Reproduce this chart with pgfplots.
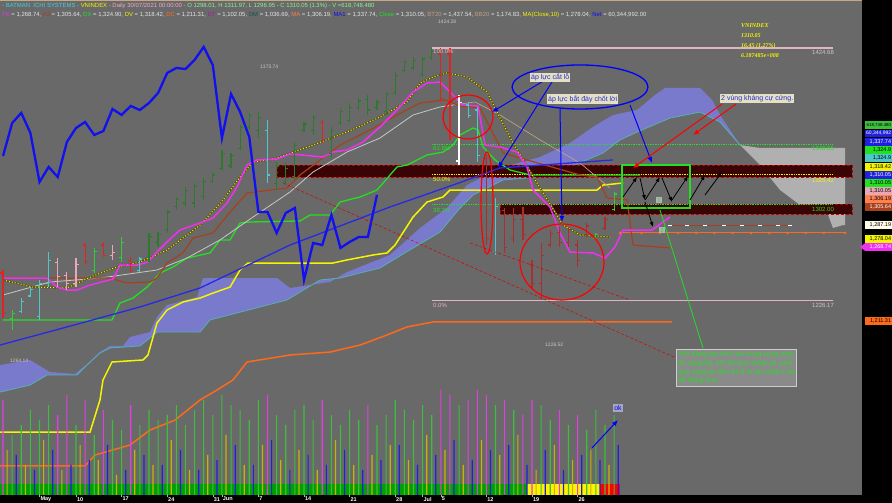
\documentclass[border=0pt]{standalone}
\usepackage{fontspec}
\setmainfont{Liberation Sans}
\newfontfamily\serifbi{Liberation Serif}
\usepackage{pgfplots}
\pgfplotsset{compat=1.18}
\usepackage{pgfplotstable}
\usetikzlibrary{arrows.meta}

\definecolor{bg}{HTML}{696969}
\definecolor{thickblue}{HTML}{1010F0}
\definecolor{mablue}{HTML}{2828E8}
\definecolor{dvyellow}{HTML}{F5F500}
\definecolor{dcorange}{HTML}{FF6A1A}
\definecolor{dxgreen}{HTML}{22E022}
\definecolor{tkmag}{HTML}{F030F0}
\definecolor{kjbrown}{HTML}{A8401C}
\definecolor{magray}{HTML}{C8C8C8}
\definecolor{matan}{HTML}{C8A882}
\definecolor{olivedk}{HTML}{5A5424}
\definecolor{cloud}{HTML}{7A7ACC}
\definecolor{cloudedge}{HTML}{55B0B5}
\definecolor{graycloud}{HTML}{B0B0B0}
\definecolor{band}{HTML}{3A0404}
\definecolor{fibpink}{HTML}{E0B4C0}
\definecolor{upgreen}{HTML}{2D7A2D}
\definecolor{litegreen}{HTML}{33CC33}
\definecolor{dnred}{HTML}{E02424}
\definecolor{dkred}{HTML}{A83030}
\definecolor{cyanbar}{HTML}{4CC8C8}
\definecolor{pinkbar}{HTML}{E8A8B8}
\definecolor{volgreen}{HTML}{3CC03C}
\definecolor{volmag}{HTML}{E040E0}
\definecolor{volyel}{HTML}{C8B400}
\definecolor{volblue}{HTML}{2020E0}
\definecolor{bandgreen}{HTML}{00A000}
\definecolor{notebg}{HTML}{E4E0C4}
\definecolor{noteblue}{HTML}{2A2AD0}
\definecolor{hcyan}{HTML}{40D0E0}
\definecolor{hpink}{HTML}{F0A8C8}
\definecolor{hgreen}{HTML}{90F090}
\definecolor{hval}{HTML}{E4E4E4}
\definecolor{dtpurple}{HTML}{A020A0}
\definecolor{dmteal}{HTML}{1E4E50}
\definecolor{maorange}{HTML}{FF8050}
\definecolor{bttan}{HTML}{C0A080}
\definecolor{boxgray}{HTML}{8A8A8A}

\newcommand{\fs}[1]{\fontsize{#1}{#1}\selectfont}

\pgfdeclareplotmark{otick}{\pgfpathmoveto{\pgfqpoint{-2.6pt}{0pt}}\pgfpathlineto{\pgfqpoint{0pt}{0pt}}\pgfusepathqstroke}
\pgfdeclareplotmark{ctick}{\pgfpathmoveto{\pgfqpoint{0pt}{0pt}}\pgfpathlineto{\pgfqpoint{2.6pt}{0pt}}\pgfusepathqstroke}

% OHLC bars, one table per colour
\pgfplotstableread{
d o h l c
-8 1248 1250.4 1212.7 1216
1 1270 1271.6 1254.3 1257
3 1270 1272.4 1260.6 1262
6 1258 1260.6 1248.0 1250
27 1366 1368.2 1350.9 1353
40 1420 1424.7 1382.3 1385
41 1420 1424.7 1352.5 1355
}\tred
\pgfplotstableread{
d o h l c
-6 1218 1228.4 1216.7 1226
-5 1230 1237.0 1229.2 1235
-4 1214 1242.6 1211.2 1240
-3 1240 1264.5 1237.0 1258
7 1250 1260.6 1248.8 1259
21 1360 1368.2 1318.7 1325
43 1380 1382.3 1369.7 1372
44 1376 1378.4 1335.2 1340
46 1265 1307.0 1262.0 1300
}\tcyan
\pgfplotstableread{
d o h l c
-2 1256 1259.8 1237.0 1245
-1 1246 1248.8 1234.7 1240
0 1240 1259.8 1237.0 1255
4 1262 1270.0 1258.3 1264
}\tpink
\pgfplotstableread{
d o h l c
42 1336 1387.8 1332.8 1382
}\twhite
\pgfplotstableread{
d o h l c
45 1338 1340.7 1270.0 1275
47 1297 1299.1 1263.8 1268
48 1275 1299.1 1271.6 1290
49 1290 1299.9 1274.0 1278
50 1255 1258.3 1236.3 1240
51 1240 1271.6 1226.5 1262
52 1270 1281.8 1268.5 1279
53 1280 1284.2 1268.5 1272
54 1272 1284.2 1268.5 1282
55 1270 1274.0 1252.8 1258
56 1278 1287.3 1276.3 1285
58 1283 1292.0 1281.8 1290
}\tdkred
\pgfplotstableread{
d o h l c
-7 1212 1219.0 1203.3 1216
2 1250 1267.7 1248.0 1265
5 1260 1276.3 1256.7 1272
57 1275 1279.5 1274.0 1278
59 1298.01 1311.97 1296.95 1310.05
}\tlgreen
\pgfplotstableread{
d o h l c
8 1260 1279.5 1256.7 1277
9 1272 1280.2 1268.5 1278
10 1282 1297.5 1279.5 1296
11 1300 1307.7 1297.5 1306
12 1303 1315.6 1299.9 1313
13 1303 1318.7 1299.1 1316
14 1308 1322.6 1305.4 1320
15 1320 1327.3 1318.7 1325
16 1330 1344.6 1328.9 1342
17 1332 1342.3 1330.5 1340
18 1346 1364.2 1344.6 1362
19 1362 1373.7 1360.3 1372
20 1360 1374.4 1354.0 1370
22 1318 1335.2 1313.2 1332
23 1320 1334.4 1317.1 1330
24 1324 1350.9 1321.1 1348
25 1360 1366.6 1358.7 1365
26 1360 1372.1 1356.4 1370
28 1342 1362.7 1338.3 1360
29 1366 1377.6 1364.2 1375
30 1368 1381.5 1366.6 1378
31 1378 1385.4 1376.0 1383
32 1384 1387.8 1372.1 1376
33 1378 1383.9 1376.0 1382
34 1375 1390.1 1372.1 1388
35 1390 1405.8 1387.8 1403
36 1407 1415.3 1405.8 1413
37 1409 1417.6 1407.4 1415
38 1404 1417.6 1401.9 1416
39 1417 1424.7 1415.3 1422
}\tgreen

% MA(Close,10)
\pgfplotstableread{
d p
-8.0 1242.6
-4.71 1237.0
-0.99 1236.3
1.86 1245.7
4.5 1252.8
7.02 1256.7
9.98 1266.1
13.6 1285.7
16.12 1305.4
17.98 1323.4
19.41 1335.2
20.94 1336.8
22.37 1339.1
25.99 1348.5
29.71 1358.7
33.33 1370.5
36.29 1382.3
37.72 1397.2
39.14 1401.9
40.68 1405.1
42.87 1401.9
45.07 1390.1
46.49 1369.7
47.92 1350.1
50.55 1318.7
53.4 1285.7
55.26 1277.9
58.55 1276.3
}\tmaten

\newcommand{\ohlc}[2]{%
  \addplot[#2, only marks, mark=otick, mark options={line width=1.2pt},
    error bars/.cd, y dir=both, y explicit, error mark=none,
    error bar style={line width=1.2pt, #2}]
    table[x=d, y=o, y error plus expr=\thisrow{h}-\thisrow{o},
          y error minus expr=\thisrow{o}-\thisrow{l}] {#1};
  \addplot[#2, only marks, mark=ctick, mark options={line width=1.2pt}]
    table[x=d, y=c] {#1};
}

\pgfplotsset{chart/.style={scale only axis, width=862pt, xmin=-8.333, xmax=86.18,
  anchor=south west, at={(0pt,8pt)}}}

\begin{document}
\begin{tikzpicture}
\useasboundingbox (0,0) rectangle (892pt,503pt);
\begin{scope}[x=1pt, y=-1pt, yshift=503pt]
  \fill[bg] (0,0) rectangle (862,495);
  \fill[black] (862,0) rectangle (892,503);
  \fill[black] (0,495) rectangle (892,503);
  \draw[matan, line width=1.2pt] (0,0.6) -- (862,0.6);
\end{scope}

\begin{axis}[chart, height=475pt, ymin=1073.8, ymax=1446.66, hide axis]
% cloud
\addplot[fill=cloud, draw=none] coordinates {
 (-8.33,1175.8) (-5.04,1179.8) (-3.95,1175.0) (-2.85,1170.3) (-0.11,1168.8) (1.21,1176.6)
 (2.63,1186.0) (3.73,1190.8) (5.15,1190.8) (5.92,1197.8) (8.11,1201.7) (8.88,1213.5)
 (9.98,1222.9) (13.27,1229.2) (13.93,1244.1) (22.04,1244.1) (23.46,1236.3) (27.85,1241.0)
 (29.71,1248.8) (34.43,1262.2) (37.72,1283.4) (40.68,1299.1) (42.87,1317.1) (46.49,1330.5)
 (50.88,1339.1) (54.17,1350.1) (56.69,1362.7) (58.88,1372.1) (61.51,1376.0) (63.49,1387.8)
 (64.58,1393.3) (68.42,1393.3) (69.74,1383.9) (70.83,1369.7) (72.81,1348.5)
 (70.61,1366.6) (68.42,1374.4) (65.13,1369.7) (61.51,1358.7) (59.65,1352.5) (57.79,1342.3)
 (54.17,1331.3) (50.55,1323.4) (46.82,1321.1) (45.72,1317.1) (43.53,1309.3) (42.1,1299.1)
 (39.91,1280.2) (36.95,1267.7) (33.33,1252.0) (28.95,1244.1) (26.75,1242.6) (23.14,1226.9)
 (14.69,1211.2) (13.6,1201.7) (8.88,1201.7) (7.02,1190.8) (3.73,1189.2) (2.63,1185.3)
 (1.21,1175.8) (0.11,1168.0) (-3.18,1168.0) (-5.04,1160.1) (-8.33,1154.6)} -- cycle;
\addplot[fill=graycloud, draw=none] coordinates {
 (72.81,1348.5) (75.0,1346.2) (84.32,1346.2) (84.32,1285.7) (84.1,1285.7) (83.0,1283.4)
 (82.13,1299.9) (79.39,1301.4) (77.19,1313.2) (75.0,1332.8)} -- cycle;
\addplot[cloudedge, line width=0.8pt] coordinates {
 (-8.33,1154.6) (-5.04,1160.1) (-3.18,1168.0) (0.11,1168.0) (1.21,1175.8) (2.63,1185.3)
 (3.73,1189.2) (7.02,1190.8) (8.88,1201.7) (13.6,1201.7) (14.69,1211.2) (23.14,1226.9)
 (26.75,1242.6) (28.95,1244.1) (33.33,1252.0) (36.95,1267.7) (39.91,1280.2) (42.1,1299.1)
 (43.53,1309.3) (45.72,1317.1) (46.82,1321.1) (50.55,1323.4) (54.17,1331.3) (57.79,1342.3)
 (59.65,1352.5) (61.51,1358.7) (65.13,1369.7) (68.42,1374.4) (70.61,1366.6) (72.81,1348.5)};
% resistance bands
\addplot[fill=band, draw=red!75!black, densely dashed, line width=0.6pt] coordinates {
 (22.04,1332.8) (85.09,1332.8) (85.09,1323.4) (22.04,1323.4)} -- cycle;
\addplot[fill=band, draw=red!75!black, densely dashed, line width=0.6pt] coordinates {
 (46.49,1302.2) (85.09,1302.2) (85.09,1294.4) (46.49,1294.4)} -- cycle;
% fibonacci levels
\addplot[fibpink, line width=1.2pt] coordinates {(39.04,1424.68) (83.0,1424.68)};
\addplot[fibpink, line width=1.2pt] coordinates {(39.04,1226.17) (83.0,1226.17)};
\addplot[dxgreen, densely dotted, line width=0.7pt] coordinates {(39.04,1348.85) (83.0,1348.85)};
\addplot[dvyellow, densely dotted, line width=0.7pt] coordinates {(39.04,1325.42) (83.0,1325.42)};
\addplot[dxgreen, densely dotted, line width=0.7pt] coordinates {(39.04,1302.0) (83.0,1302.0)};
% DC
\addplot[dcorange, line width=1.5pt] coordinates {
 (-8.33,1096.6) (0.99,1096.6) (2.08,1105.2) (5.92,1113.0) (8.11,1124.8) (10.86,1132.6)
 (13.6,1148.4) (15.46,1156.2) (17.21,1164.1) (18.75,1178.2) (23.46,1183.7) (27.85,1186.0)
 (31.14,1191.5) (34.1,1199.4) (36.29,1205.7) (39.14,1209.6) (65.35,1209.6)};
\addplot[dcorange, line width=1pt, mark=*, mark size=0.7pt] coordinates {
 (59.65,1279.5) (62,1279.5) (64,1279.5) (66,1279.5) (68,1279.5) (70,1279.5) (72,1279.5)
 (74,1279.5) (76,1279.5) (78,1279.5) (80,1279.5) (82,1279.5) (84.32,1279.5)};
% DV
\addplot[dvyellow, line width=1.5pt] coordinates {
 (-8.33,1123.2) (1.54,1123.2) (2.63,1148.4) (2.96,1164.1) (3.95,1178.2) (7.35,1179.8)
 (7.89,1183.7) (8.88,1208.8) (9.98,1219.0) (11.73,1225.3) (13.6,1228.4) (15.02,1232.3)
 (16.89,1237.0) (17.98,1250.4) (18.86,1255.9) (28.18,1255.9) (29.71,1258.3) (32.57,1262.2)
 (34.1,1263.8) (34.98,1270.0) (36.95,1292.0) (38.49,1303.8) (40.24,1307.7) (41.0,1313.2)
 (57.13,1313.2) (57.79,1317.1) (59.98,1318.7)};
% DX
\addplot[dxgreen, line width=1.3pt] coordinates {
 (-8.0,1211.2) (3.95,1211.2) (4.82,1224.5) (6.25,1228.4) (7.79,1237.0) (9.21,1248.0)
 (10.64,1252.8) (12.17,1259.8) (14.69,1263.8) (15.79,1274.0) (16.89,1274.0) (17.98,1287.3)
 (19.08,1288.1) (24.56,1288.9) (25.66,1293.6) (27.85,1293.6) (28.95,1303.8) (31.14,1307.7)
 (33.0,1313.2) (35.2,1331.3) (36.29,1332.8) (38.49,1340.7) (40.24,1343.0) (41.34,1348.5)
 (42.1,1356.4) (43.53,1361.9) (44.08,1360.3) (44.63,1347.0) (45.94,1336.8) (47.59,1328.9)
 (49.78,1325.0) (61.84,1325.0)};
% MA (grey) and its continuation
\addplot[magray, line width=0.8pt] coordinates {
 (-8.0,1230.8) (-2.85,1241.0) (2.63,1244.1) (8.88,1250.4) (12.17,1259.8) (15.79,1274.0)
 (19.41,1292.0) (23.46,1311.6) (25.99,1327.3) (29.71,1343.0) (33.33,1354.0) (36.95,1372.1)
 (39.91,1378.4) (41.34,1379.9)};
\addplot[matan, line width=0.6pt] coordinates {
 (41.34,1379.9) (43.75,1382.3) (46.49,1372.1) (50.88,1352.5) (55.26,1334.4) (58.55,1314.8)};
% KJ
\addplot[kjbrown, line width=1.2pt] coordinates {
 (-8.0,1244.1) (3.73,1244.1) (5.59,1240.2) (8.11,1241.0) (8.88,1244.1) (9.98,1255.9)
 (11.73,1263.8) (12.83,1275.5) (15.02,1279.5) (16.89,1295.9) (18.75,1310.8) (23.14,1314.8)
 (24.56,1325.0) (28.95,1348.5) (32.24,1360.3) (35.2,1372.1) (37.72,1381.5) (40.46,1383.9)
 (42.1,1379.2) (44.3,1377.6) (46.82,1342.3) (49.45,1336.8) (55.26,1325.0) (57.13,1323.4)
 (58.22,1306.9) (60.42,1305.4) (61.07,1270.0) (65.13,1267.7)};
\addplot[kjbrown, line width=1pt, mark=-, mark size=2pt, mark options={white}] coordinates {
 (65.13,1285.0) (67,1285.0) (69,1285.0) (71,1285.0) (73,1285.0) (75,1285.0) (77,1285.0) (78.29,1285.0)};
% MA(Close,10)
\addplot[olivedk, line width=1.8pt] table[x=d, y=p] {\tmaten};
\addplot[dvyellow, dotted, line width=1pt] table[x=d, y=p] {\tmaten};
% TK
\addplot[tkmag, line width=1.5pt] coordinates {
 (-8.0,1244.1) (-3.18,1244.1) (-2.08,1237.0) (-0.99,1234.7) (0.11,1234.7) (1.54,1238.6)
 (4.06,1243.3) (4.82,1254.3) (6.69,1254.3) (7.89,1256.7) (8.88,1264.5) (9.98,1272.4)
 (11.4,1281.8) (13.6,1287.3) (15.02,1291.2) (16.56,1303.0) (17.65,1315.6) (18.75,1332.8)
 (19.85,1336.8) (22.04,1337.5) (23.46,1341.5) (27.08,1339.1) (28.18,1343.0) (29.71,1344.6)
 (31.47,1350.9) (33.33,1362.7) (35.2,1376.0) (36.95,1390.1) (38.49,1397.2) (39.91,1398.0)
 (41.34,1387.8) (42.32,1379.9) (44.08,1379.2) (44.85,1348.5) (46.49,1347.0) (48.36,1343.0)
 (49.45,1331.3) (50.11,1313.2) (51.97,1299.9) (53.07,1279.5) (54.17,1264.5) (56.69,1263.8)
 (58.0,1259.8) (59.1,1268.5) (59.98,1281.8) (63.16,1281.8) (65.13,1292.0)};
% MA1 (thin blue)
\addplot[mablue, line width=1.3pt] coordinates {
 (-8.33,1191.5) (-0.99,1205.7) (7.02,1221.4) (13.6,1236.3) (23.46,1270.0) (34.43,1299.9)
 (41.34,1317.1) (46.49,1330.5) (58.88,1336.8)};
% lagging close (thick blue)
\addplot[thickblue, line width=2.3pt] coordinates {
 (-8,1339.9) (-7,1365.8) (-6,1373.7) (-5,1358.0) (-4,1319.5) (-3,1331.3) (-2,1323.4)
 (-1,1350.9) (0,1361.9) (1,1366.6) (2,1356.4) (3,1359.5) (4,1376.8) (5,1372.1) (6,1379.2)
 (7,1376.0) (8,1381.5) (9,1389.4) (10,1405.1) (11,1409.0) (12,1408.2) (13,1415.3)
 (14,1425.5) (15,1411.3) (16,1354.0) (17,1388.6) (18,1374.4) (19,1354.8) (20,1295.9)
 (21,1295.9) (22,1279.5) (23,1295.2) (24,1299.1) (25,1242.6) (26,1271.6) (27,1270.0)
 (28,1293.6) (29,1267.7) (30,1272.4) (31,1276.3) (32,1276.3) (33,1309.3)};
% price bars
\ohlc{\tgreen}{upgreen}
\ohlc{\tlgreen}{litegreen}
\ohlc{\tred}{dnred}
\ohlc{\tdkred}{dkred}
\ohlc{\tcyan}{cyanbar}
\ohlc{\tpink}{pinkbar}
\ohlc{\twhite}{white}
% green box
\addplot[draw=dxgreen, line width=1.2pt] coordinates {
 (59.87,1332.8) (67.32,1332.8) (67.32,1299.1) (59.87,1299.1)} -- cycle;
\end{axis}

\begin{axis}[chart, height=110pt, ymin=0, ymax=1100,
  axis line style={draw=none}, ytick=\empty,
  xtick={-4,0,5,10,15,16,20,25,30,35,38,40,45,50,55},
  xticklabels={May,10,17,24,31,Jun,7,14,21,28,Jul,5,12,19,26},
  xtick pos=left, tick align=outside, major tick length=2.5pt,
  every tick/.style={draw=white!70!black, line width=0.4pt},
  xticklabel style={font=\fs{5.5}\bfseries, text=white, anchor=north west,
    inner sep=0pt, xshift=0.8pt, yshift=0.5pt}]
\addplot[fill=bandgreen, draw=none] coordinates {(-8.333,0) (49.45,0) (49.45,110) (-8.333,110)} -- cycle;
\addplot[fill=yellow, draw=none] coordinates {(49.45,0) (57.46,0) (57.46,110) (49.45,110)} -- cycle;
\addplot[fill=red, draw=none] coordinates {(57.46,0) (59.65,0) (59.65,110) (57.46,110)} -- cycle;
\addplot[ybar, bar width=1.1pt, bar shift=0pt, fill=volgreen, draw=none] coordinates {
 (-7,600) (-6,700) (-5,850) (-4,750) (-3,900) (0,700) (2,600) (4,750) (5,650) (7,700)
 (8,850) (9,750) (10,800) (11,900) (12,700) (13,850) (14,950) (15,800) (16,1000) (17,900)
 (18,850) (19,750) (20,950) (22,800) (23,700) (24,850) (25,900) (26,750) (28,800) (29,700)
 (30,850) (31,750) (33,700) (34,800) (35,950) (36,850) (37,750) (38,900) (39,800) (42,900)
 (46,900) (48,850) (51,900) (52,750) (54,700) (56,650) (57,850) (58,700) (59,800)};
\addplot[ybar, bar width=1.1pt, bar shift=0pt, fill=volmag, draw=none] coordinates {
 (-8,950) (-2,800) (-1,1000) (1,950) (3,850) (6,900) (21,1000) (27,950) (32,900) (40,1050)
 (41,1000) (43,950) (44,1050) (45,1000) (47,950) (49,800) (50,950) (53,850) (55,800)};
\addplot[ybar, bar width=1.2pt, bar shift=0pt, fill=volyel, draw=none] coordinates {
 (-7.55,450) (-5.55,300) (-3.55,550) (-1.55,250) (0.45,500) (2.45,350) (4.45,200) (6.45,450)
 (8.45,300) (10.45,550) (12.45,250) (14.45,400) (16.45,600) (18.45,300) (20.45,500)
 (22.45,350) (24.45,450) (26.45,250) (28.45,550) (30.45,300) (32.45,400) (34.45,500)
 (36.45,350) (38.45,600) (40.45,450) (42.45,300) (44.45,550) (46.45,400) (48.45,600)
 (50.45,250) (52.45,500) (54.45,350) (56.45,450) (58.45,300)};
\addplot[ybar, bar width=1.2pt, bar shift=0pt, fill=volblue, draw=none] coordinates {
 (-6.55,400) (-4.55,250) (-2.55,450) (-0.55,300) (1.45,350) (3.45,500) (5.45,250) (7.45,400)
 (9.45,300) (11.45,450) (13.45,250) (15.45,350) (17.45,500) (19.45,300) (21.45,550)
 (23.45,250) (25.45,400) (27.45,300) (29.45,450) (31.45,250) (33.45,350) (35.45,500)
 (37.45,300) (39.45,400) (41.45,550) (43.45,350) (45.45,450) (47.45,500) (49.45,300)
 (51.45,450) (53.45,250) (55.45,400) (57.45,350) (59.45,500)};
\end{axis}

\begin{scope}[x=1pt, y=-1pt, yshift=503pt]
% header
\node[anchor=west, inner sep=0, font=\fs{5.95}] at (2,5.5) {\textcolor{hcyan}{- BATMAN \ ICHI SYSTEMS -} \textcolor{dvyellow}{VNINDEX} \textcolor{hpink}{- Daily 30/07/2021 00:00:00 -} \textcolor{hgreen}{O 1298.01, H 1311.97, L 1296.95 - C 1310.05 (1.3\%) - V =618,748.480}};
\node[anchor=west, inner sep=0, font=\fs{5.95}, text=hval] at (2,15) {\textcolor{tkmag}{TK} = 1,268.74, \textcolor{kjbrown}{KJ} = 1,305.64, \textcolor{dxgreen}{DX} = 1,324.90, \textcolor{dvyellow}{DV} = 1,318.42, \textcolor{dcorange}{DC} = 1,211.31, \textcolor{dtpurple}{DT} = 1,102.05, \textcolor{dmteal}{DM} = 1,036.69, \textcolor{maorange}{MA} = 1,306.19, \textcolor{thickblue}{MA1} = 1,337.74, \textcolor{dxgreen}{Close} = 1,310.05, \textcolor{bttan}{BT20} = 1,437.54, \textcolor{bttan}{BB20} = 1,174.83, \textcolor{dvyellow}{MA(Close,10)} = 1,278.04, \textcolor{thickblue}{Net} = 60,344,992.00};
% top-right quote
\begin{scope}[every node/.style={anchor=west, inner sep=0, font=\serifbi\itshape\bfseries\fs{6}, text=dvyellow}]
\node at (741,26) {VNINDEX};
\node at (741,36) {1310.05};
\node at (741,46) {16.45 (1.27\%)};
\node at (741,56) {6.187485e+008};
\end{scope}
% fibonacci labels
\begin{scope}[every node/.style={anchor=west, inner sep=0, font=\fs{6}}]
\node[text=fibpink] at (433,51) {100.0\%};
\node[text=dxgreen] at (433,148) {61.8\%};
\node[text=dvyellow] at (433,179) {50.0\%};
\node[text=dxgreen] at (433,210) {38.2\%};
\node[text=fibpink] at (433,305) {0.0\%};
\node[text=magray] at (812,52) {1424.68};
\node[text=dxgreen] at (812,148) {1348.85};
\node[text=dvyellow] at (812,180) {1325.42};
\node[text=dxgreen] at (812,209) {1302.00};
\node[text=magray] at (812,305) {1226.17};
\node[text=magray, font=\fs{5}] at (438,22) {1424.28};
\node[text=magray, font=\fs{5}] at (260,67) {1375.74};
\node[text=magray, font=\fs{5}] at (10,361) {1264.14};
\node[text=magray, font=\fs{5}] at (545,345) {1226.52};
\end{scope}
% ellipses
\draw[red, line width=1.2pt] (468,117) ellipse [x radius=25pt, y radius=22pt];
\draw[red, line width=1.2pt] (487,203) ellipse [x radius=6pt, y radius=51pt];
\draw[red, line width=1.2pt] (562,262) ellipse [x radius=42pt, y radius=38pt];
\draw[blue, line width=1.3pt] (580,87) ellipse [x radius=68pt, y radius=22pt];
% dotted guide lines
\draw[red!85!black, densely dashed, line width=0.5pt] (283,183) -- (676,358);
\draw[red!85!black, densely dashed, line width=0.5pt] (470,243) -- (630,300);
% blue arrows
\begin{scope}[blue, line width=1pt, -{Latex[length=6pt,width=5pt]}]
\draw (545,80) -- (492,112);
\draw (552,82) -- (498,168);
\draw (560,108) -- (562,222);
\draw (630,105) -- (652,163);
\draw (592,448) -- (618,420);
\end{scope}
% red arrows
\begin{scope}[red, line width=1pt, -{Latex[length=6pt,width=5pt]}]
\draw (722,104) -- (633,168);
\draw (736,104) -- (693,135);
\end{scope}
% black zigzag
\begin{scope}[black, line width=0.8pt, -{Latex[length=5pt,width=4pt]}]
\draw (623,197) -- (637,177);
\draw (640,178) -- (645,200);
\draw (645,200) -- (660,177);
\draw (645,202) -- (653,227);
\draw (662,178) -- (672,202);
\draw (672,200) -- (688,176);
\draw (690,200) -- (705,175);
\draw (705,195) -- (722,172);
\end{scope}
\node[fill=gray!60, text=dxgreen, font=\fs{6}, inner sep=1pt] at (659,200) {1};
\node[fill=gray!60, text=dxgreen, font=\fs{6}, inner sep=1pt] at (662,230) {2};
% green pointer from note
\draw[dxgreen, line width=0.8pt] (703,348) -- (660,210);
% notes
\begin{scope}[every node/.style={fill=notebg, text=noteblue, inner sep=1pt, anchor=west, font=\fs{7}}]
\node at (530,77.5) {áp lực cắt lỗ};
\node at (547,99) {áp lực bắt đáy chốt lời};
\node at (720,98.5) {2 vùng kháng cự cứng.};
\end{scope}
\node[fill=boxgray, draw=gray!40, text=dxgreen, anchor=north west, align=left,
  inner sep=2pt, font=\fs{7}\linespread{1.25}\selectfont] at (676,349)
  {VNI càng tạo nền lâu trong vùng mây\\thì càng tốt, khi đó bức thoát sẽ vượt\\qua vùng kc fibo 61.8 \% tại 1349.x sẽ\\dễ dàng hơn.};
\node[fill=blue!15!gray!60, text=blue, font=\fs{7}, inner sep=1.5pt] at (618,408) {ok};
% right value tags
\begin{scope}[every node/.style={anchor=west, inner sep=0.4pt, minimum height=7.6pt,
  text width=25.5pt, align=right, font=\fs{5.5}}]
\node[fill=volgreen, text=black, font=\fs{4.4}] at (865,125) {618,748.480};
\node[fill=volblue, text=white, font=\fs{5}] at (865,133.5) {60,344,992};
\node[fill=volblue, text=white] at (865,142) {1,337.74};
\node[fill=dxgreen, text=black] at (865,150) {1,324.9};
\node[fill=cyanbar, text=black] at (865,158) {1,324.9};
\node[fill=dvyellow, text=black] at (865,167) {1,318.42};
\node[fill=volblue, text=white] at (865,175) {1,310.05};
\node[fill=dxgreen, text=black] at (865,183) {1,310.05};
\node[fill=pinkbar, text=black] at (865,191) {1,310.05};
\node[fill=maorange, text=black] at (865,199) {1,306.19};
\node[fill=kjbrown, text=white] at (865,207) {1,305.64};
\node[fill=white!92!yellow, text=black] at (865,225) {1,287.19};
\node[fill=dvyellow, text=black] at (865,239) {1,278.04};
\node[fill=tkmag, text=white] at (865,247) {1,268.74};
\node[fill=dcorange, text=black] at (865,321) {1,211.31};
\end{scope}
\fill[tkmag] (860,247) -- (865,243.2) -- (865,250.8) -- cycle;
\end{scope}
\end{tikzpicture}
\end{document}
